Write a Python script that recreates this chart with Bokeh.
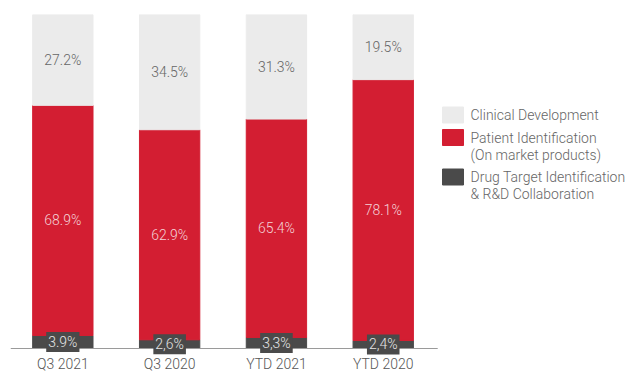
from bokeh.plotting import figure
from bokeh.models import ColumnDataSource, Range1d
from bokeh.core.properties import value
from bokeh.embed import file_html
from bokeh.resources import INLINE

categories = ["Q3 2021", "Q3 2020", "YTD 2021", "YTD 2020"]
drug_target = [3.9, 2.6, 3.3, 2.4]
patient_id = [68.9, 62.9, 65.4, 78.1]
clinical = [27.2, 34.5, 31.3, 19.5]

label_drug = ["3.9%", "2,6%", "3,3%", "2,4%"]
label_patient = ["68.9%", "62.9%", "65.4%", "78.1%"]
label_clinical = ["27.2%", "34.5%", "31.3%", "19.5%"]

legend_names = ["Clinical Development",
                "Patient Identification\n(On market products)",
                "Drug Target Identification\n& R&D Collaboration"]

FONT = "Roboto Light"
GREY = "#EBEBEB"
RED = "#D31E32"
DARK = "#4A4A4A"

W_FIG, H_FIG = 636, 372
BL, BT = 10, 14           # frame left / top in page pixels
BASE = 348                # page pixel of the 0% baseline
PX_X = 106.8              # pixels per category step
PX_Y = (BASE - BT) / 100.0
X0 = -0.49
X1 = X0 + (W_FIG - BL) / PX_X
Y0 = -(H_FIG - BASE) / PX_Y

def dx(sx):  # page pixel -> data x
    return (sx - BL) / PX_X + X0

def dy(sy):  # page pixel -> data y
    return (BASE - sy) / PX_Y

x = list(range(len(categories)))
b0 = [0.0] * len(x)
b1 = drug_target
b2 = [a + b for a, b in zip(drug_target, patient_id)]
b3 = [a + b for a, b in zip(b2, clinical)]

src = ColumnDataSource(dict(
    x=x, b0=b0, b1=b1, b2=b2, b3=b3,
    y_dark=[v / 2 for v in drug_target],
    y_red=[(a + b) / 2 for a, b in zip(b1, b2)],
    y_grey=[(a + b) / 2 for a, b in zip(b2, b3)],
    l_dark=label_drug, l_red=label_patient, l_grey=label_clinical,
    cat=categories, y_cat=[dy(363)] * len(x),
))

p = figure(width=W_FIG, height=H_FIG, output_backend="svg", toolbar_location=None,
           x_range=Range1d(X0, X1), y_range=Range1d(Y0, 100),
           min_border_left=BL, min_border_right=0, min_border_top=BT, min_border_bottom=0)
p.outline_line_color = None
p.grid.grid_line_color = None
p.axis.visible = False
p.background_fill_color = "white"
p.border_fill_color = "white"

W = 0.565
p.vbar(x="x", bottom="b0", top="b1", width=W, color=DARK, source=src)
p.vbar(x="x", bottom="b1", top="b2", width=W, color=RED, source=src)
p.vbar(x="x", bottom="b2", top="b3", width=W, color=GREY, source=src)

# baseline (category axis line)
p.segment(x0=[X0], x1=[len(x) - 0.5 + 0.01], y0=[0], y1=[0],
          line_color="#9A9A9A", line_width=1.2)

# category labels
p.text(x="x", y="y_cat", text="cat", source=src, text_align="center",
       text_baseline="middle", text_font=value(FONT), text_font_size="14px",
       text_color="#555555")

common = dict(x="x", source=src, text_align="center", text_baseline="middle",
              text_font=value(FONT), text_font_size="14px")
p.text(y="y_grey", text="l_grey", text_color="#666666", **common)
p.text(y="y_red", text="l_red", text_color="#F3D3D8", **common)
p.text(y="y_dark", text="l_dark", text_color="#E6E6E6",
       background_fill_color=DARK, padding=2, **common)

# legend (drawn manually so the swatch aligns with the first text line)
leg_colors = [GREY, RED, DARK]
sw_y = [dy(114.5), dy(137), dy(176.5)]
p.rect(x=[dx(452.5)] * 3, y=sw_y, width=21, height=16,
       width_units="screen", height_units="screen", color=leg_colors)
lines, ly = [], []
for name, yy in zip(legend_names, sw_y):
    for k, part in enumerate(name.split("\n")):
        lines.append(part)
        ly.append(yy - k * 17 / PX_Y)
p.text(x=[dx(470)] * len(lines), y=ly, text=lines, text_align="left",
       text_baseline="middle", text_font=value(FONT), text_font_size="14px",
       text_color="#666666")

open("out.html", "w").write(file_html(p, INLINE))
